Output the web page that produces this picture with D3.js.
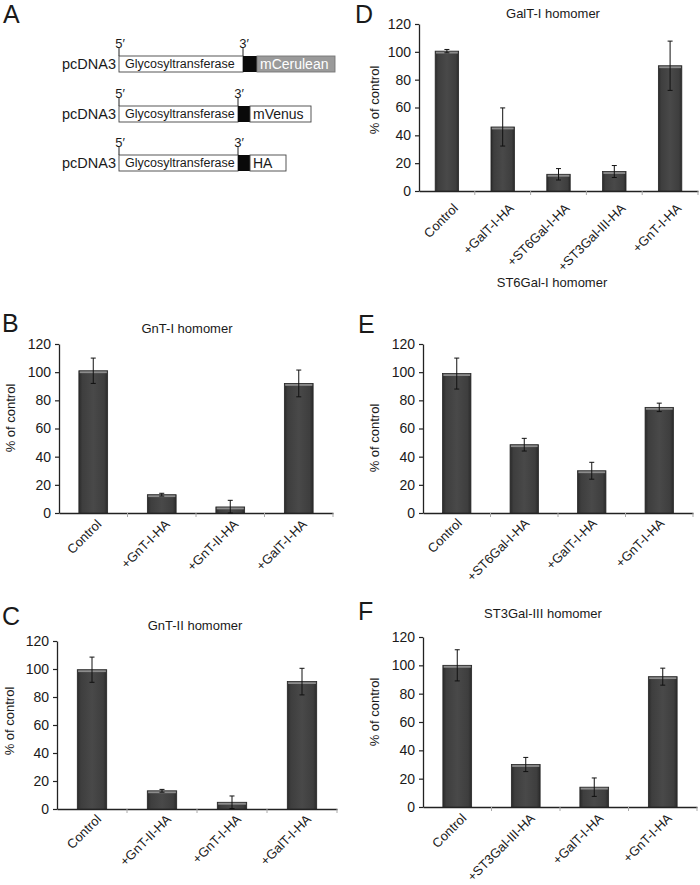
<!DOCTYPE html>
<html><head><meta charset="utf-8">
<script src="https://cdn.jsdelivr.net/npm/d3@7"></script>
<style>body{margin:0;background:#fff;} svg{display:block;font-family:"Liberation Sans", Arial, sans-serif;}</style>
</head><body><svg id="c" width="700" height="885"></svg>
<script>
// ---------- data ----------
const yTicks = [0, 20, 40, 60, 80, 100, 120];

const catsB = ["Control", "+GnT-I-HA", "+GnT-II-HA", "+GalT-I-HA"];
const valsB = [101, 13, 4.3, 92];
const errsB = [9, 1, 4.7, 9.5];

const catsC = ["Control", "+GnT-II-HA", "+GnT-I-HA", "+GalT-I-HA"];
const valsC = [99.5, 13, 4.8, 91];
const errsC = [9, 1, 4.5, 9.5];

const catsD = ["Control", "+GalT-I-HA", "+ST6Gal-I-HA", "+ST3Gal-III-HA", "+GnT-I-HA"];
const valsD = [100.5, 46, 12, 14, 90];
const errsD = [1.2, 13.7, 4.1, 4.3, 17.7];

const catsE = ["Control", "+ST6Gal-I-HA", "+GalT-I-HA", "+GnT-I-HA"];
const valsE = [99, 48.5, 30, 75];
const errsE = [11, 4.5, 6, 3];

const catsF = ["Control", "+ST3Gal-III-HA", "+GalT-I-HA", "+GnT-I-HA"];
const valsF = [100, 30, 14, 92];
const errsF = [11, 5, 6.5, 6];

const titles = {B: "GnT-I homomer", C: "GnT-II homomer", D: "GalT-I homomer", E: "ST6Gal-I homomer", F: "ST3Gal-III homomer"};
const yLabel = "% of control";

const constructTags = ["mCerulean", "mVenus", "HA"];
const vectorName = "pcDNA3";
const geneName = "Glycosyltransferase";

// ---------- drawing ----------
const svg = d3.select("#c");
const defs = svg.append("defs");
const grad = defs.append("linearGradient").attr("id", "barg").attr("x1", "0").attr("x2", "1").attr("y1", "0").attr("y2", "0");
[[0, "#2a2a2a"], [0.12, "#3e3e3e"], [0.5, "#494949"], [0.88, "#3e3e3e"], [1, "#2a2a2a"]]
  .forEach(([o, c]) => grad.append("stop").attr("offset", o).attr("stop-color", c));

const TXT = "#1a1a1a";

function panelLetter(ch, x, y) {
  svg.append("text").attr("x", x).attr("y", y).attr("font-size", 25).attr("fill", TXT).text(ch);
}

function drawPanel(cfg) {
  const g = svg.append("g");
  const x = d3.scaleBand().domain(cfg.cats).range([cfg.x0, cfg.x1]).paddingInner(0.58).paddingOuter(0.29);
  const y = d3.scaleLinear().domain([0, 120]).range([cfg.yb, cfg.yt]);

  // y axis
  const ya = g.append("g").attr("transform", `translate(${cfg.x0},0)`)
    .call(d3.axisLeft(y).tickValues(yTicks).tickSize(4).tickPadding(4).tickSizeOuter(0));
  ya.attr("font-family", null).attr("font-size", null);
  ya.select(".domain").attr("stroke", "#222").attr("stroke-width", 1.3);
  ya.selectAll(".tick line").attr("stroke", "#222").attr("stroke-width", 1.2);
  ya.selectAll("text").attr("font-size", 14).attr("fill", TXT);

  // x axis line
  const xa = g.append("g").attr("transform", `translate(0,${cfg.yb})`)
    .call(d3.axisBottom(x).tickSize(0).tickSizeOuter(0).tickFormat(""));
  xa.select(".domain").attr("stroke", "#222").attr("stroke-width", 1.3);
  // boundary ticks between categories
  g.selectAll(".bt").data(cfg.cats.slice(1).concat(["__end"])).join("line")
    .attr("x1", (d, i) => cfg.x0 + (i + 1) * x.step()).attr("x2", (d, i) => cfg.x0 + (i + 1) * x.step())
    .attr("y1", cfg.yb).attr("y2", cfg.yb + 4).attr("stroke", "#aaa").attr("stroke-width", 1);

  // bars
  const data = cfg.cats.map((c, i) => ({c, v: cfg.vals[i], e: cfg.errs[i]}));
  g.selectAll(".bar").data(data).join("rect")
    .attr("x", d => x(d.c)).attr("width", x.bandwidth())
    .attr("y", d => y(d.v)).attr("height", d => y(0) - y(d.v))
    .attr("fill", "url(#barg)").attr("stroke", "#262626").attr("stroke-width", 0.8);
  g.selectAll(".hl").data(data).join("rect")
    .attr("x", d => x(d.c) + 0.8).attr("width", x.bandwidth() - 1.6)
    .attr("y", d => y(d.v) + 0.6).attr("height", 1.8)
    .attr("fill", "#8c8c8c");

  // error bars
  const eb = g.selectAll(".eb").data(data).join("g");
  eb.append("line").attr("x1", d => x(d.c) + x.bandwidth() / 2).attr("x2", d => x(d.c) + x.bandwidth() / 2)
    .attr("y1", d => y(Math.max(0, d.v - d.e))).attr("y2", d => y(d.v + d.e)).attr("stroke", "#111").attr("stroke-width", 1);
  [-1, 1].forEach(s => {
    eb.append("line").attr("x1", d => x(d.c) + x.bandwidth() / 2 - 2.5).attr("x2", d => x(d.c) + x.bandwidth() / 2 + 2.5)
      .attr("y1", d => y(Math.max(0, d.v + s * d.e))).attr("y2", d => y(Math.max(0, d.v + s * d.e)))
      .attr("stroke", "#111").attr("stroke-width", 1);
  });

  // category labels
  g.selectAll(".cl").data(cfg.cats).join("text")
    .attr("transform", d => `translate(${x(d) + x.bandwidth() / 2 + cfg.ldx},${cfg.yb + cfg.ldy}) rotate(-45)`)
    .attr("text-anchor", "end").attr("font-size", 13).attr("fill", TXT).text(d => d);

  // y label
  g.append("text").attr("transform", `translate(${cfg.ylx},${cfg.ylc}) rotate(-90)`)
    .attr("text-anchor", "middle").attr("font-size", 13).attr("fill", TXT).text(yLabel);

  // title
  g.append("text").attr("x", cfg.tx).attr("y", cfg.ty).attr("text-anchor", "middle")
    .attr("font-size", 13).attr("fill", TXT).text(cfg.title);

  panelLetter(cfg.letter, cfg.lx, cfg.ly);
}

drawPanel({letter: "B", lx: 2, ly: 332, title: titles.B, tx: 187, ty: 333, cats: catsB, vals: valsB, errs: errsB,
  x0: 59, x1: 333, yb: 513, yt: 344, ldx: 9, ldy: 12, ylx: 15, ylc: 418});
drawPanel({letter: "C", lx: 2, ly: 625, title: titles.C, tx: 195, ty: 630, cats: catsC, vals: valsC, errs: errsC,
  x0: 57, x1: 337, yb: 809, yt: 641, ldx: 10, ldy: 11, ylx: 14, ylc: 721});
drawPanel({letter: "D", lx: 355, ly: 23, title: titles.D, tx: 553, ty: 18, cats: catsD, vals: valsD, errs: errsD,
  x0: 419, x1: 698, yb: 191, yt: 24, ldx: 12, ldy: 18, ylx: 379, ylc: 100});
drawPanel({letter: "E", lx: 358, ly: 333, title: titles.E, tx: 552, ty: 287, cats: catsE, vals: valsE, errs: errsE,
  x0: 423, x1: 693, yb: 513, yt: 344, ldx: 6, ldy: 11, ylx: 379, ylc: 438});
drawPanel({letter: "F", lx: 358, ly: 620, title: titles.F, tx: 543, ty: 618, cats: catsF, vals: valsF, errs: errsF,
  x0: 423, x1: 697, yb: 807, yt: 637, ldx: 10, ldy: 12, ylx: 379, ylc: 712});

// ---------- panel A: construct schematic ----------
panelLetter("A", 3, 23);
const rowsA = constructTags.map((t, i) => ({
  tag: t,
  top: [56, 106, 155][i],
  x3: [243, 238, 238][i],
  blackW: [14, 12, 12][i],
  end: [335, 311, 286][i],
  grey: i === 0
}));
const ga = svg.append("g");
const boxX = 119, boxH = 16;
rowsA.forEach(r => {
  const g = ga.append("g");
  // 5' and 3' labels + ticks
  g.append("text").attr("x", boxX + 1).attr("y", r.top - 8).attr("text-anchor", "middle").attr("font-size", 13).attr("fill", TXT).text("5\u2032");
  g.append("text").attr("x", r.x3 + 1).attr("y", r.top - 8).attr("text-anchor", "middle").attr("font-size", 13).attr("fill", TXT).text("3\u2032");
  g.append("line").attr("x1", boxX).attr("x2", boxX).attr("y1", r.top - 8).attr("y2", r.top).attr("stroke", "#222");
  g.append("line").attr("x1", r.x3).attr("x2", r.x3).attr("y1", r.top - 8).attr("y2", r.top).attr("stroke", "#222");
  // gene box
  g.append("rect").attr("x", boxX).attr("y", r.top).attr("width", r.x3 - boxX).attr("height", boxH)
    .attr("fill", "#fff").attr("stroke", "#444").attr("stroke-width", 0.9);
  g.append("rect").attr("x", r.x3).attr("y", r.top).attr("width", r.blackW).attr("height", boxH).attr("fill", "#0a0a0a");
  g.append("rect").attr("x", r.x3 + r.blackW).attr("y", r.top).attr("width", r.end - r.x3 - r.blackW).attr("height", boxH)
    .attr("fill", r.grey ? "#9a9a9a" : "#fff").attr("stroke", r.grey ? "#777" : "#444").attr("stroke-width", 0.9);
  g.append("text").attr("x", 125).attr("y", r.top + 12).attr("font-size", 12.5).attr("fill", TXT).text(geneName);
  g.append("text").attr("x", r.x3 + r.blackW + 3).attr("y", r.top + 12.5).attr("font-size", 14)
    .attr("fill", r.grey ? "#fff" : TXT).text(r.tag);
  g.append("text").attr("x", 116).attr("y", r.top + 12.5).attr("text-anchor", "end").attr("font-size", 14.5).attr("fill", TXT).text(vectorName);
});
</script>
</body></html>
